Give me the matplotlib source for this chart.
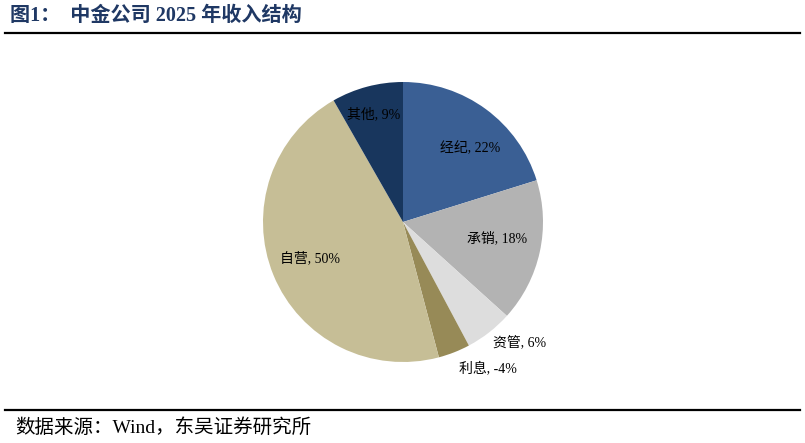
import matplotlib
matplotlib.use("Agg")
import matplotlib.pyplot as plt
import numpy as np

plt.rcParams['font.family'] = ['Liberation Serif', 'Noto Sans CJK SC', 'DejaVu Sans']

categories = ['经纪', '承销', '资管', '利息', '自营', '其他']
pct_labels = ['22%', '18%', '6%', '-4%', '50%', '9%']
values = [22, 18, 6, 4, 50, 9]
colors = ['#3A5F94', '#B3B3B3', '#DDDDDD', '#978A57', '#C6BE96', '#18365D']

# label placement: (distance as fraction of radius, angle offset in deg from wedge middle)
label_dist = [0.71, 0.68, 1.20, 1.21, 0.71, 0.80]
label_off = [-6, 2.5, 6, 8.5, -1, 0.5]

fig = plt.figure(figsize=(8.05, 4.43), dpi=100)

W, H = 805, 443
cx, cy, r = 403, 443 - 222, 140
ax = fig.add_axes([(cx - r) / W, (cy - r) / H, 2 * r / W, 2 * r / H])
wedges, _ = ax.pie(values, colors=colors, startangle=90, counterclock=False,
                   radius=1, wedgeprops=dict(linewidth=0))
ax.set_xlim(-1, 1)
ax.set_ylim(-1, 1)
ax.set_aspect('equal')
ax.axis('off')

for w, cat, p, d, off in zip(wedges, categories, pct_labels, label_dist, label_off):
    mid = np.deg2rad((w.theta1 + w.theta2) / 2 + off)
    ax.text(d * np.cos(mid), d * np.sin(mid), f'{cat}, {p}', ha='center', va='center',
            fontsize=10, color='black')

# Title and rules
fig.text(10 / W, 1 - 16 / H, '图1：  中金公司 2025 年收入结构', fontsize=14.5, fontweight='bold',
         color='#1F3864', ha='left', va='center')
fig.add_artist(plt.Line2D([5 / W, 800 / W], [1 - 33 / H, 1 - 33 / H], color='black', lw=1.6))
fig.add_artist(plt.Line2D([5 / W, 800 / W], [1 - 410 / H, 1 - 410 / H], color='black', lw=1.6))
fig.text(15 / W, 1 - 428 / H, '数据来源：Wind，东吴证券研究所', fontsize=14, color='black',
         ha='left', va='center')

fig.savefig('out.png', dpi=100)
